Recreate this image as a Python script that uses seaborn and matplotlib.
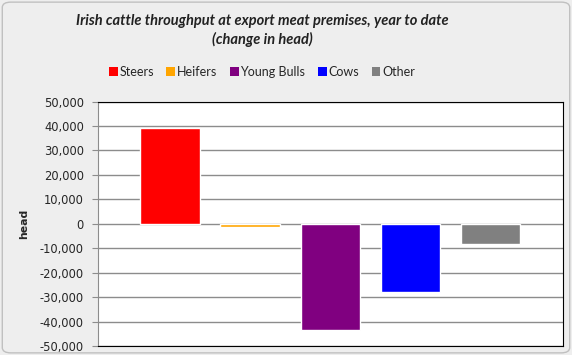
import numpy as np
import pandas as pd
import seaborn as sns
import matplotlib.pyplot as plt
from matplotlib.patches import FancyBboxPatch, Patch
from matplotlib.ticker import FuncFormatter

categories = ["Steers", "Heifers", "Young Bulls", "Cows", "Other"]
change = [39000, -1200, -43300, -28000, -8200]
colours = ["#ff0000", "#ffa500", "#800080", "#0000ff", "#808080"]

df = pd.DataFrame({"Category": categories, "Change": change})

sns.set_style("white")
plt.rcParams["font.family"] = ["DejaVu Sans"]

fig = plt.figure(figsize=(5.72, 3.55), dpi=100)
fig.patch.set_facecolor("#eeeeee")
fig.patches.append(FancyBboxPatch((0.004, 0.006), 0.992, 0.988, boxstyle="round,pad=0,rounding_size=0.015",
                                  transform=fig.transFigure, facecolor="none", edgecolor="#c0c0c0", lw=1))

ax = fig.add_axes([0.171, 0.025, 0.813, 0.689])
ax.set_facecolor("white")

sns.barplot(data=df, x="Category", y="Change", hue="Category", palette=colours,
            dodge=False, width=0.74, saturation=1, legend=False, ax=ax)

ax.set_ylim(-50000, 50000)
ax.set_yticks(np.arange(-50000, 50001, 10000))
ax.yaxis.set_major_formatter(FuncFormatter(lambda v, p: f"{int(v):,}"))
ax.set_xlim(-0.9, 4.9)
ax.set_xticks([])
ax.set_xlabel("")
ax.set_ylabel("head", fontsize=7.8, fontweight="bold", labelpad=8)
ax.yaxis.grid(True, color="#8c8c8c", lw=1)
ax.set_axisbelow(True)
ax.tick_params(axis="y", labelsize=8.3, length=4, color="#8c8c8c", pad=6, left=True)
for s in ["top", "right", "bottom"]:
    ax.spines[s].set_color("black")
ax.spines["left"].set_color("#8c8c8c")

fig.text(0.458, 0.914, "Irish cattle throughput at export meat premises, year to date\n(change in head)",
         ha="center", va="center", fontsize=10.5, fontstyle="italic", fontweight="bold",
         family=["Lato", "DejaVu Sans"], linespacing=1.4, color="#222222")

handles = [Patch(facecolor=c, edgecolor="none") for c in colours]
fig.legend(handles, categories, loc="center", bbox_to_anchor=(0.458, 0.797), ncol=5, frameon=False,
           handlelength=0.7, handleheight=0.7, handletextpad=0.15, columnspacing=1.0,
           prop={"family": ["Lato", "DejaVu Sans"], "size": 9})

fig.savefig("out.png", dpi=100, facecolor=fig.get_facecolor())
